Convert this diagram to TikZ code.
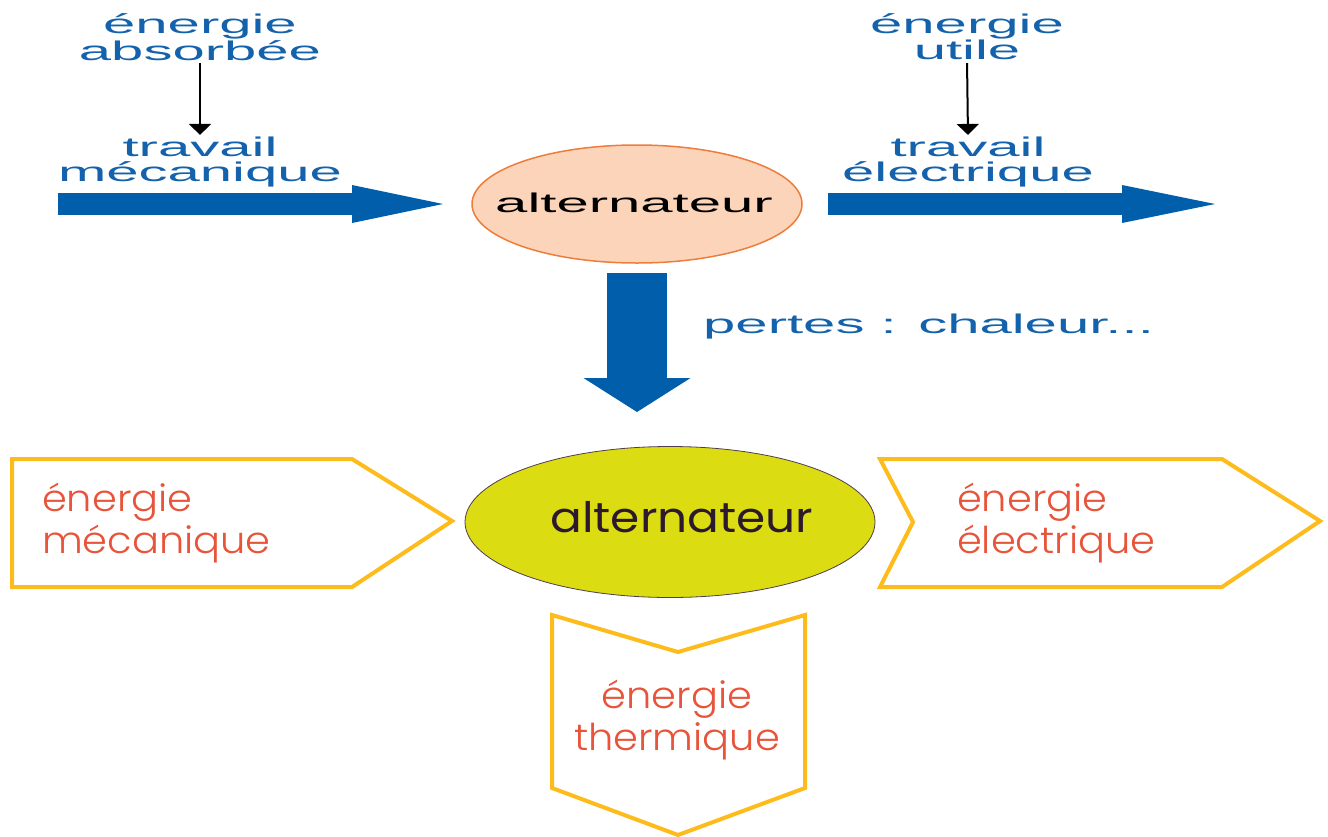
\documentclass[tikz,border=0pt]{standalone}
\usepackage{fontspec}
\usetikzlibrary{arrows.meta,shapes.geometric}
\newfontfamily\topfont{Liberation Sans}[FakeStretch=2.15]
\newfontfamily\botlight{Poppins Light}[FakeStretch=1.08]
\newfontfamily\botreg{Poppins}[FakeStretch=1.12]
\definecolor{tblue}{RGB}{20,98,172}
\definecolor{ablue}{RGB}{0,94,170}
\definecolor{peach}{RGB}{251,212,185}
\definecolor{porange}{RGB}{238,125,60}
\definecolor{lime}{RGB}{220,220,18}
\definecolor{limeb}{RGB}{80,60,80}
\definecolor{gold}{RGB}{253,188,28}
\definecolor{ored}{RGB}{232,84,58}
\definecolor{dpurple}{RGB}{45,25,45}
\begin{document}
\begin{tikzpicture}[x=1pt,y=-1pt,
  toptext/.style={font=\topfont\fontsize{27}{25}\selectfont, text=tblue, align=center, inner sep=0pt, outer sep=0pt},
  thinarrow/.style={draw=black, line width=2pt, -{Triangle[width=22pt,length=11pt]}},
  shapebox/.style={draw=gold, line width=4pt, line join=miter},
  botlabel/.style={font=\botlight\fontsize{37}{42}\selectfont, text=ored, inner sep=0pt, outer sep=0pt}]
\useasboundingbox (0,0) rectangle (1328,836);

% top row
\node[toptext] (eabs) at (200,37) {énergie\\absorbée};
\node[toptext] (travm) at (200,162) {travail\\mécanique};
\node[toptext] (eutil) at (967,37) {énergie\\utile};
\node[toptext] (trave) at (968,162) {travail\\électrique};
\draw[thinarrow, shorten <=3pt, shorten >=2pt] (eabs.south) -- (travm.north);
\draw[thinarrow, shorten <=3pt, shorten >=2pt] (eutil.south) -- (trave.north);

\node[ellipse, draw=porange, fill=peach, line width=1.5pt, minimum width=330pt, minimum height=118pt, inner sep=0pt, outer sep=0pt] (alt1) at (637,204) {};
\node[font=\topfont\fontsize{27}{25}\selectfont, text=black, inner sep=0pt] (alt1t) at (634,203) {alternateur};

\coordinate (lstart) at (58,204);
\coordinate (rend) at (1215,204);
\coordinate (dend) at (637,412);
\draw[draw=ablue, line width=22pt, shorten >=29pt, -{Triangle[width=38pt,length=91pt,line width=0pt]}] (lstart) -- (alt1.west);
\draw[draw=ablue, line width=22pt, shorten <=26pt, -{Triangle[width=38pt,length=93pt,line width=0pt]}] (alt1.east) -- (rend);
\draw[draw=ablue, line width=60pt, shorten <=10pt, -{Triangle[width=107pt,length=34pt,line width=0pt]}] (alt1.south) -- (dend);

\node[font=\topfont\fontsize{27}{25}\selectfont, text=tblue, anchor=base west, inner sep=0pt] (pertes) at (703,333) {pertes : chaleur...};

% bottom row
\draw[shapebox] (12,459) -- (352,459) -- (452,521) -- (352,587) -- (12,587) -- cycle;
\draw[shapebox] (880,459) -- (1222,459) -- (1320,521) -- (1222,587) -- (880,587) -- (913,522) -- cycle;
\draw[shapebox] (552,615) -- (678,652) -- (805,615) -- (805,788) -- (678,835) -- (552,788) -- cycle;

\node[ellipse, fill=lime, draw=limeb, line width=0.8pt, minimum width=410pt, minimum height=151pt, inner sep=0pt] (alt2) at (670,522) {};
\node[font=\botreg\fontsize{42}{46}\selectfont, text=dpurple, inner sep=0pt] (alt2t) at (682,517) {alternateur};

\node[botlabel, align=left, anchor=west] (emec) at (42,523) {énergie\\mécanique};
\node[botlabel, align=left, anchor=west] (eelec) at (957,523) {énergie\\électrique};
\node[botlabel, align=center] (etherm) at (677,720) {énergie\\thermique};
\end{tikzpicture}
\end{document}
